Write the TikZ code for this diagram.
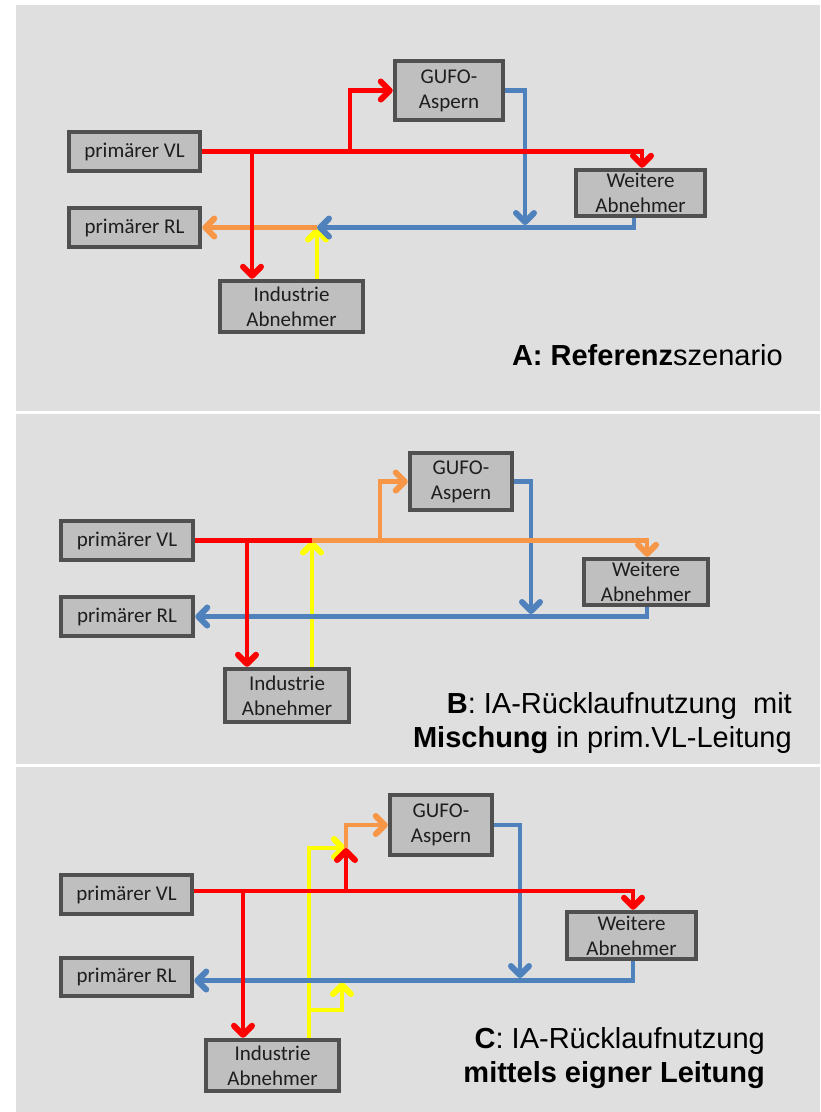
\documentclass[tikz,border=0pt]{standalone}
\usepackage{fontspec}
\setmainfont{Carlito}
\newfontfamily\capfont{Liberation Sans}
\usetikzlibrary{arrows.meta}
\definecolor{bgpanel}{HTML}{DFDFDF}
\definecolor{boxfill}{HTML}{BFBFBF}
\definecolor{boxline}{HTML}{505050}
\definecolor{boxtext}{HTML}{1E1E1E}
\definecolor{pred}{HTML}{FF0000}
\definecolor{pblue}{HTML}{4F81BD}
\definecolor{porange}{HTML}{F79646}
\definecolor{pyellow}{HTML}{FFFF00}
\tikzset{
  box/.style={draw=boxline, fill=boxfill, line width=4.5pt, align=center, inner sep=0pt,
    text=boxtext, font=\fontsize{21}{25}\selectfont},
  pipe/.style={line width=4.5pt},
  tip/.style={-{Straight Barb[length=9pt,width=18pt,line width=6pt,round]}},
  caption/.style={anchor=east, align=right, font=\capfont\fontsize{29}{34}\selectfont, text=black, inner sep=0pt},
  panel/.style={fill=bgpanel, draw=none}
}
\begin{document}
\begin{tikzpicture}[x=1pt,y=-1pt]
\useasboundingbox (0,0) rectangle (820,1112);
\fill[white] (0,0) rectangle (820,1112);
\fill[panel] (16,5) rectangle (820,411);
\fill[panel] (16,414) rectangle (820,764);
\fill[panel] (16,767) rectangle (820,1112);

% ---------------- Panel A ----------------
\node[box, minimum width=131, minimum height=39] (vlA) at (134.5,151.5) {primärer VL};
\node[box, minimum width=131, minimum height=39] (rlA) at (134.5,227.5) {primärer RL};
\node[box, minimum width=108, minimum height=59] (gufoA) at (449,90.5) {GUFO-\\Aspern};
\node[box, minimum width=129, minimum height=46] (weA) at (640.5,193) {Weitere\\Abnehmer};
\node[box, minimum width=143, minimum height=51] (indA) at (291.5,306.5) {Industrie\\Abnehmer};
\coordinate (jA1) at (252,151.5);
\coordinate (jA2) at (350,151.5);
\coordinate (jA3) at (525,225);
\coordinate (jA4) at (317,227.5);
\draw[pipe, pyellow, tip] (jA4 |- indA.north) -- (jA4);
\draw[pipe, porange, tip] (jA4) -- (rlA.east);
\draw[pipe, pblue, tip] (gufoA.east) -| (jA3);
\draw[pipe, pblue, tip] ([xshift=-6.5pt]weA.south) |- (jA4);
\draw[pipe, pred, tip] (vlA.east) -| ([xshift=1.5pt]weA.north);
\draw[pipe, pred, tip] (jA1) -- (jA1 |- indA.north);
\draw[pipe, pred, tip] (jA2) |- (gufoA.west);
\node[caption] (capA) at (783,355) {\textbf{A: Referenz}szenario};

% ---------------- Panel B ----------------
\node[box, minimum width=132, minimum height=39] (vlB) at (127,540.5) {primärer VL};
\node[box, minimum width=132, minimum height=39] (rlB) at (127,616.5) {primärer RL};
\node[box, minimum width=102, minimum height=57] (gufoB) at (461,481.5) {GUFO-\\Aspern};
\node[box, minimum width=124, minimum height=46] (weB) at (646,582) {Weitere\\Abnehmer};
\node[box, minimum width=124, minimum height=53] (indB) at (287,695.5) {Industrie\\Abnehmer};
\coordinate (jB1) at (312,540.5);
\coordinate (jB2) at (247,540.5);
\coordinate (jB3) at (380,540.5);
\coordinate (jB4) at (531,614);
\draw[pipe, pyellow, tip] (jB1 |- indB.north) -- (jB1);
\draw[pipe, pblue, tip] (gufoB.east) -| (jB4);
\draw[pipe, pblue, tip] ([xshift=1pt]weB.south) |- (rlB.east);
\draw[pipe, porange, tip] (jB1) -| ([xshift=1pt]weB.north);
\draw[pipe, porange, tip] (jB3) |- (gufoB.west);
\draw[pipe, pred] (vlB.east) -- (jB1);
\draw[pipe, pred, tip] (jB2) -- (jB2 |- indB.north);
\node[caption] (capB) at (792,723) {\textbf{B}: IA-Rücklaufnutzung\ \ mit\\\textbf{Mischung} in prim.VL-Leitung};

% ---------------- Panel C ----------------
\node[box, minimum width=131, minimum height=39] (vlC) at (126.5,894.5) {primärer VL};
\node[box, minimum width=131, minimum height=38] (rlC) at (126.5,977) {primärer RL};
\node[box, minimum width=102, minimum height=60] (gufoC) at (441,825) {GUFO-\\Aspern};
\node[box, minimum width=129, minimum height=47] (weC) at (631.5,935.5) {Weitere\\Abnehmer};
\node[box, minimum width=133, minimum height=51] (indC) at (272.5,1065.5) {Industrie\\Abnehmer};
\coordinate (vC) at ([yshift=3.5pt]vlC.east);
\coordinate (jC1) at (243,891);
\coordinate (jC2) at (346,891);
\coordinate (jC3) at (346,848);
\coordinate (jC4) at (309,848);
\coordinate (jC5) at (309,1010);
\coordinate (jC6) at (342,982);
\coordinate (jC7) at (520,978);
\draw[pipe, pyellow, tip] (jC4 |- indC.north) -- (jC4) -- (jC3);
\draw[pipe, pyellow, tip] (jC5) -| (jC6);
\draw[pipe, pblue, tip] (gufoC.east) -| (jC7);
\draw[pipe, pblue, tip] ([xshift=1.5pt]weC.south) |- ([yshift=-3.5pt]rlC.east);
\draw[pipe, porange, tip] (jC3) |- (gufoC.west);
\draw[pipe, pred, tip] (vC) -| ([xshift=1.5pt]weC.north);
\draw[pipe, pred, tip] (jC1) -- (jC1 |- indC.north);
\draw[pipe, pred, tip] (jC2) -- (jC3);
\node[caption] (capC) at (765,1058.5) {\textbf{C}: IA-Rücklaufnutzung\\\textbf{mittels eigner Leitung}};
\end{tikzpicture}
\end{document}
